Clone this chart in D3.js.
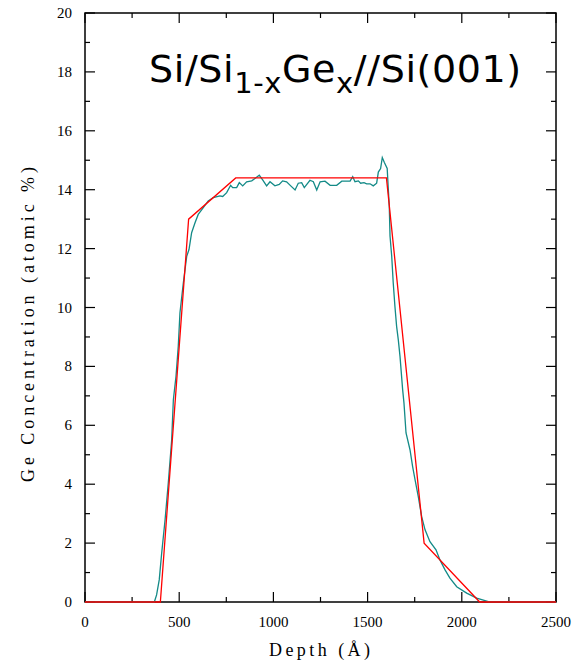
<!DOCTYPE html>
<html><head><meta charset="utf-8">
<script src="https://cdn.jsdelivr.net/npm/d3@7"></script>
<style>body{margin:0;background:#fff}</style>
</head><body>
<script>
// Measured SIMS-like profile (Depth Å, Ge %)
const measDepth = [0,368,380,394,407,425,442,460,469,483,495,504,522,540,552,566,584,601,628,654,681,716,731,752,773,784,805,819,837,858,885,902,925,943,964,982,1008,1031,1049,1070,1092,1115,1132,1150,1164,1194,1212,1230,1248,1274,1301,1336,1363,1407,1421,1433,1451,1463,1481,1495,1513,1530,1548,1557,1569,1578,1589,1604,1610,1615,1619,1628,1636,1645,1654,1663,1672,1686,1693,1704,1725,1739,1752,1769,1787,1805,1831,1863,1884,1911,1937,1973,2026,2079,2141,2500];
const measGe = [0,0,0.24,0.75,1.66,2.79,4.04,5.5,6.87,7.66,8.68,9.82,10.84,11.74,11.97,12.54,12.88,13.16,13.39,13.62,13.73,13.79,13.77,13.9,14.15,14.07,14.07,14.24,14.13,14.27,14.3,14.38,14.49,14.33,14.13,14.27,14.13,14.18,14.3,14.27,14.13,13.99,14.22,14.24,14.07,14.32,14.27,13.99,14.27,14.29,14.15,14.15,14.29,14.29,14.44,14.27,14.3,14.22,14.24,14.2,14.2,14.13,14.22,14.6,14.72,15.09,14.92,14.72,14.01,13.45,12.43,11.74,10.84,10.04,9.36,8.9,8.34,7.21,6.76,5.74,5.17,4.6,4.15,3.58,2.9,2.45,2.05,1.77,1.43,1.09,0.81,0.52,0.3,0.13,0.01,0];
// Model profile
const modelDepth = [0,400,550,800,1600,1800,2095,2500];
const modelGe = [0,0,13.0,14.4,14.4,2.0,0,0];
const xTicks = [0,500,1000,1500,2000,2500];
const yTicks = [0,2,4,6,8,10,12,14,16,18,20];

const W=576,H=669;
const m={l:85,r:20,t:13,b:67};
const svg=d3.select("body").append("svg").attr("width",W).attr("height",H);
const x=d3.scaleLinear().domain([0,2500]).range([m.l,556]);
const y=d3.scaleLinear().domain([0,20]).range([602,m.t]);
const serif="'Liberation Serif','Times New Roman',serif";

const g=svg.append("g");
// frame
g.append("rect").attr("x",x(0)).attr("y",y(20)).attr("width",x(2500)-x(0)).attr("height",y(0)-y(20))
 .attr("fill","none").attr("stroke","#000").attr("stroke-width",1.5);

const xMinor=d3.range(0,2501,250), yMinor=d3.range(0,21,1);
function tickLen(v,major){return major.includes(v)?10:5;}
// bottom & top ticks (inward)
xMinor.forEach(v=>{const L=tickLen(v,xTicks);
 g.append("line").attr("x1",x(v)).attr("x2",x(v)).attr("y1",y(0)).attr("y2",y(0)-L).attr("stroke","#000").attr("stroke-width",1.2);
 g.append("line").attr("x1",x(v)).attr("x2",x(v)).attr("y1",y(20)).attr("y2",y(20)+L).attr("stroke","#000").attr("stroke-width",1.2);
});
yMinor.forEach(v=>{const L=tickLen(v,yTicks);
 g.append("line").attr("y1",y(v)).attr("y2",y(v)).attr("x1",x(0)).attr("x2",x(0)+L).attr("stroke","#000").attr("stroke-width",1.2);
 g.append("line").attr("y1",y(v)).attr("y2",y(v)).attr("x1",x(2500)).attr("x2",x(2500)-L).attr("stroke","#000").attr("stroke-width",1.2);
});
// tick labels
xTicks.forEach(v=>g.append("text").attr("x",x(v)).attr("y",627).attr("text-anchor","middle")
 .attr("font-family",serif).attr("font-size",15).text(v));
yTicks.forEach(v=>g.append("text").attr("x",72).attr("y",y(v)+5).attr("text-anchor","end")
 .attr("font-family",serif).attr("font-size",15).text(v));

// lines
const line=d3.line().x(d=>x(d[0])).y(d=>y(d[1]));
g.append("path").datum(measDepth.map((d,i)=>[d,measGe[i]])).attr("d",line)
 .attr("fill","none").attr("stroke","#138a87").attr("stroke-width",1.3);
g.append("path").datum(modelDepth.map((d,i)=>[d,modelGe[i]])).attr("d",line)
 .attr("fill","none").attr("stroke","#ff0000").attr("stroke-width",1.3);

// axis labels
svg.append("text").attr("x",269).attr("y",656)
 .attr("font-family",serif).attr("font-size",18).attr("textLength",101).attr("lengthAdjust","spacing").text("Depth (Å)");
svg.append("text").attr("transform","translate(34,482) rotate(-90)")
 .attr("font-family",serif).attr("font-size",18).attr("textLength",315).attr("lengthAdjust","spacing").text("Ge Concentration (atomic %)");

// title
const t=svg.append("text").attr("x",149).attr("y",82).attr("font-family","'DejaVu Sans',Verdana,sans-serif")
 .attr("font-size",38).attr("letter-spacing",0.6);
t.append("tspan").text("Si/Si");
t.append("tspan").attr("dy",11).attr("font-size",29).text("1-x");
t.append("tspan").attr("dy",-11).text("Ge");
t.append("tspan").attr("dy",11).attr("font-size",29).text("x");
t.append("tspan").attr("dy",-11).text("//Si(001)");
</script>
</body></html>
